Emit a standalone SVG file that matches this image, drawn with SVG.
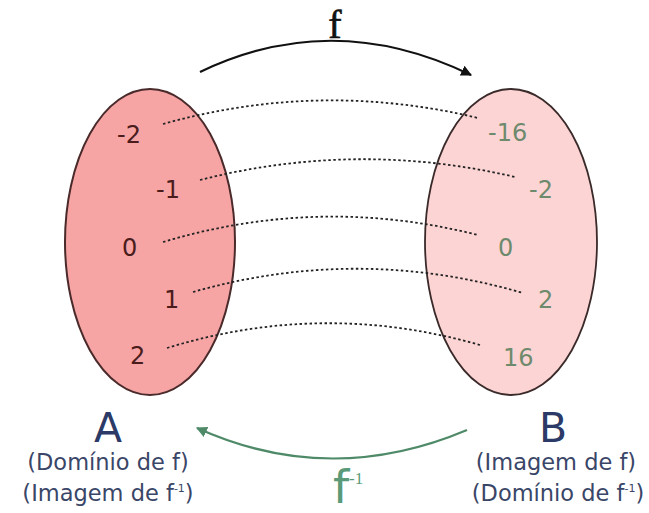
<svg xmlns="http://www.w3.org/2000/svg" width="649" height="513" viewBox="0 0 649 513">
<style>
.num{font-family:"DejaVu Sans",Verdana,sans-serif;font-size:24px}
.l{fill:#4a1c1c}
.r{fill:#6e8a6c}
.big{font-family:"DejaVu Sans",Verdana,sans-serif;font-size:41px;fill:#2b3a66;text-anchor:middle}
.sub{font-family:"DejaVu Sans",Verdana,sans-serif;font-size:22.5px;fill:#3a4668;text-anchor:middle}
.dot{fill:none;stroke:#222;stroke-width:1.8;stroke-dasharray:2.5 2.5}
</style>
<defs>
<marker id="ab" viewBox="0 0 10 10" refX="9" refY="5" markerWidth="5" markerHeight="5" orient="auto"><path d="M0,0 L10,5 L0,10 z" fill="#111"/></marker>
<marker id="ag" viewBox="0 0 10 10" refX="9" refY="5" markerWidth="5" markerHeight="5" orient="auto"><path d="M0,0 L10,5 L0,10 z" fill="#4f8a68"/></marker>
</defs>
<rect width="649" height="513" fill="#fff"/>
<g id="setA">
<ellipse cx="150" cy="242" rx="85" ry="153" fill="#f6a4a4" stroke="#4a2a2a" stroke-width="2"/>
<text class="num l" x="117" y="143">-2</text>
<text class="num l" x="156" y="198">-1</text>
<text class="num l" x="122" y="256">0</text>
<text class="num l" x="164" y="308">1</text>
<text class="num l" x="130" y="364">2</text>
</g>
<g id="setB">
<ellipse cx="511" cy="242" rx="86" ry="153" fill="#fdd4d4" stroke="#3a2a2a" stroke-width="1.8"/>
<text class="num r" x="488" y="141">-16</text>
<text class="num r" x="529" y="198">-2</text>
<text class="num r" x="498" y="256">0</text>
<text class="num r" x="538" y="308">2</text>
<text class="num r" x="503" y="366">16</text>
</g>
<g id="labelA">
<text class="big" x="108" y="442">A</text>
<text class="sub" x="108" y="470">(Domínio de f)</text>
<text class="sub" x="108" y="501">(Imagem de f<tspan font-size="11" dy="-9">-1</tspan><tspan dy="9">)</tspan></text>
</g>
<g id="labelB">
<text class="big" x="553" y="442">B</text>
<text class="sub" x="556" y="470">(Imagem de f)</text>
<text class="sub" x="558" y="501">(Domínio de f<tspan font-size="11" dy="-9">-1</tspan><tspan dy="9">)</tspan></text>
</g>
<g id="connectors">
<path class="dot" d="M163,124 Q320,80 478,118"/>
<path class="dot" d="M200,180 Q357,140 515,177"/>
<path class="dot" d="M163,242 Q320,195 478,235"/>
<path class="dot" d="M193,292 Q358,245 523,293"/>
<path class="dot" d="M167,348 Q323,300 480,345"/>
<path d="M200,72 Q333,8 471,75" fill="none" stroke="#111" stroke-width="2.2" marker-end="url(#ab)"/>
<path d="M467,430 Q330,488 197,428" fill="none" stroke="#4f8a68" stroke-width="2.2" marker-end="url(#ag)"/>
</g>
<g id="fLabels">
<text x="335" y="38" font-family="Liberation Serif,serif" font-size="40" text-anchor="middle" fill="#111" stroke="#111" stroke-width="0.6">f</text>
<text x="333" y="503" font-family="DejaVu Sans,sans-serif" font-size="46" fill="#5a9a78">f</text>
<text x="349" y="484" font-family="Liberation Serif,serif" font-size="17" fill="#5a9a78">-1</text>
</g>
</svg>
